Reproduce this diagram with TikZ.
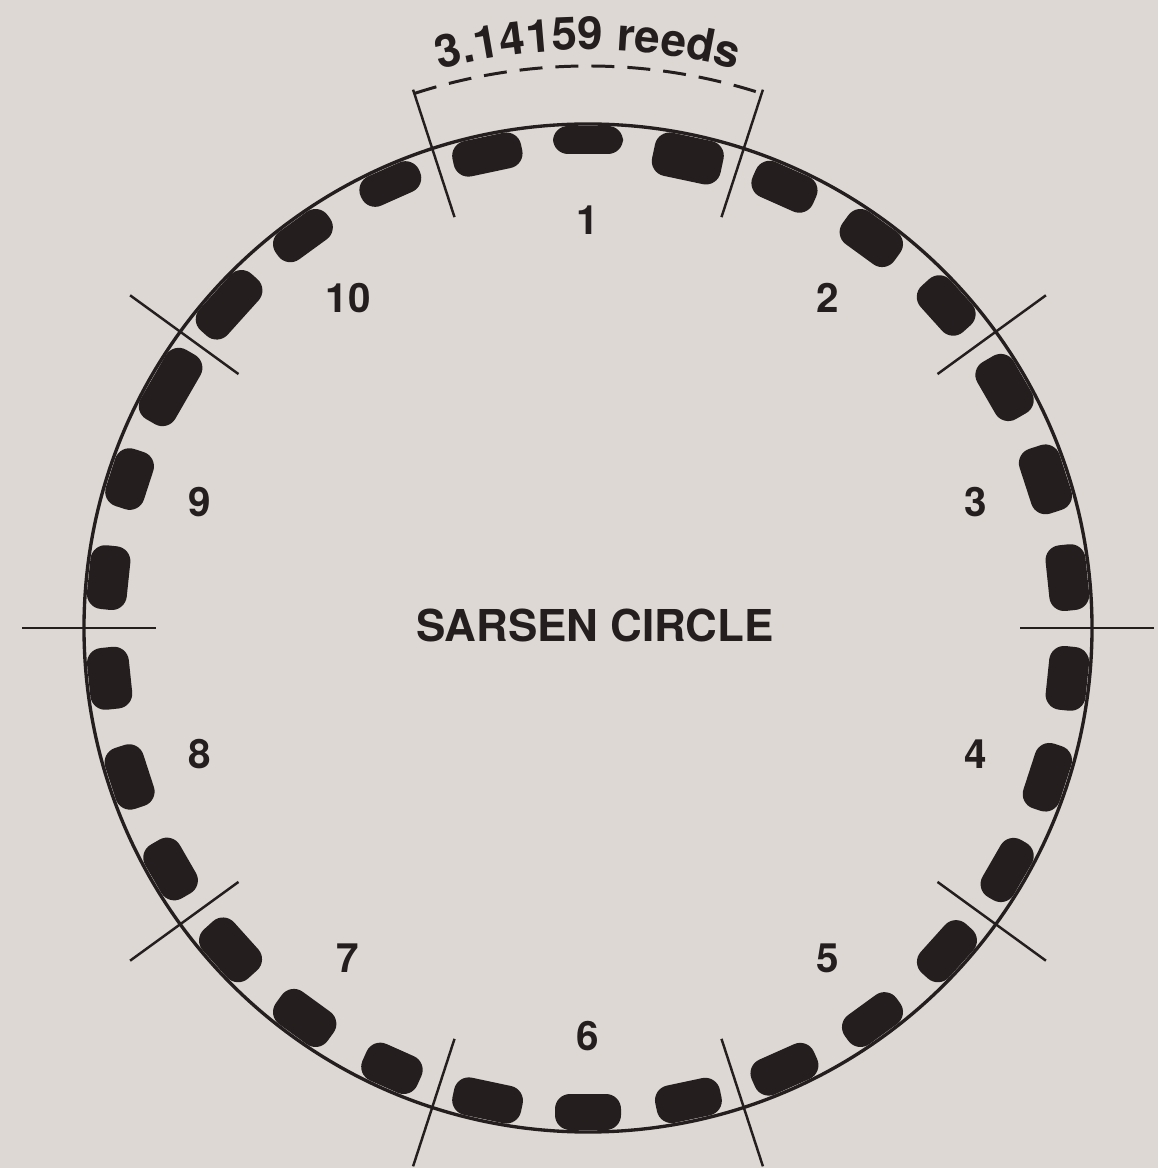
\documentclass[tikz,border=0pt]{standalone}
\usepackage{fontspec}
\setmainfont{TeX Gyre Heros}
\usetikzlibrary{decorations.text}
\definecolor{bg}{RGB}{221,216,212}
\definecolor{ink}{RGB}{36,30,30}
\begin{document}
\begin{tikzpicture}[x=0.02cm,y=0.02cm,
  ring/.style={draw=ink, line width=1.9pt},
  tickline/.style={draw=ink, line width=1.4pt},
  stone/.style={fill=ink, rounded corners=0.3cm},
  num/.style={text=ink, font=\fontsize{23}{28}\selectfont\bfseries, inner sep=0pt},
  title/.style={text=ink, font=\fontsize{25}{30}\selectfont\bfseries, inner sep=0pt},
  measure/.style={draw=ink, line width=1.7pt, dash pattern=on 0.46cm off 0.26cm}]
\fill[bg] (-588,-540) rectangle (570,628);
\useasboundingbox (-588,-540) rectangle (570,628);
% main circle
\draw[ring] (0,0) circle[radius=504];
% stones
\foreach \k/\w/\h in {0/70/28, 1/70/36, 2/64/32, 3/64/34, 4/76/38, 5/80/40,
  6/60/40, 7/64/40, 8/62/42, 9/64/40, 10/62/40, 11/66/42, 12/64/40, 13/60/40,
  14/70/38, 15/66/36, 16/66/38, 17/68/38, 18/64/36, 19/66/38, 20/66/36,
  21/68/38, 22/64/40, 23/66/40, 24/68/42, 25/66/42, 26/62/40, 27/64/40,
  28/66/38, 29/70/44} {
  \fill[stone, rotate=12*\k] (-\w/2,502-\h) rectangle (\w/2,502);
}
% division ticks
\foreach \t in {0,36,...,324} \draw[tickline] (\t:432) -- (\t:566);
% measurement arc
\draw[measure] (108:562) arc[start angle=108, end angle=72, radius=562];
\path[postaction={decorate}, decoration={text along path, text align=center,
  text color=ink,
  text={|\fontsize{26}{30}\selectfont\bfseries|3.14159 reeds}}]
  (120:578) arc[start angle=120, end angle=60, radius=578];
% segment numbers
\foreach \j in {1,...,10} \node[num] (n\j) at ({90-36*(\j-1)}:408) {\j};
% title
\node[title] (title) at (7,3) {SARSEN CIRCLE};
\end{tikzpicture}
\end{document}
